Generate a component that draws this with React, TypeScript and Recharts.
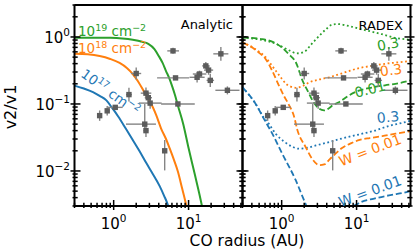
import React from 'react';
import { ComposedChart, Line, Scatter, ErrorBar, XAxis, YAxis } from 'recharts';

// ---------- axes ----------
const X_DOMAIN: [number, number] = [0.3, 52.5];
const Y_DOMAIN: [number, number] = [0.003, 3];
const X_TICKS = [0.3, 0.4, 0.5, 0.6, 0.7, 0.8, 0.9, 1, 2, 3, 4, 5, 6, 7, 8, 9, 10, 20, 30, 40, 50];
const Y_TICKS = [
  0.003, 0.004, 0.005, 0.006, 0.007, 0.008, 0.009, 0.01, 0.02, 0.03, 0.04, 0.05, 0.06, 0.07, 0.08, 0.09,
  0.1, 0.2, 0.3, 0.4, 0.5, 0.6, 0.7, 0.8, 0.9, 1, 2, 3,
];
const X_MAJOR = [1, 10];
const X_MAJOR_EXP = ['0', '1'];
const Y_MAJOR = [0.01, 0.1, 1];
const Y_MAJOR_EXP = ['\u22122', '\u22121', '0'];

// ---------- analytic curves (left panel) ----------
const a19R = [0.3, 0.6, 0.9, 1.3, 1.8, 2.4, 2.9, 3.5, 4.0, 4.5, 5.0, 5.5, 6.0, 6.6, 7.2, 8.5, 10, 12, 15, 18];
const a19V = [0.975, 0.975, 0.97, 0.95, 0.91, 0.85, 0.79, 0.66, 0.52, 0.41, 0.31, 0.245, 0.188, 0.135, 0.095, 0.05, 0.022, 0.0093, 0.0031, 0.001];
const a18R = [0.3, 0.45, 0.65, 0.9, 1.2, 1.5, 1.8, 2.1, 2.5, 2.9, 3.2, 3.7, 4.3, 5.0, 5.6, 6.4, 7.2, 8.2, 9.3, 11];
const a18V = [0.56, 0.55, 0.52, 0.47, 0.41, 0.345, 0.28, 0.22, 0.158, 0.117, 0.098, 0.068, 0.043, 0.03, 0.0217, 0.0145, 0.0098, 0.0055, 0.0031, 0.0012];
const a17R = [0.3, 0.4, 0.53, 0.65, 0.8, 0.95, 1.15, 1.45, 1.8, 2.2, 2.73, 3.3, 4.1, 4.7, 5.3, 6.5];
const a17V = [0.188, 0.17, 0.15, 0.132, 0.113, 0.088, 0.065, 0.043, 0.029, 0.02, 0.0131, 0.0092, 0.006, 0.0043, 0.0031, 0.0012];

// ---------- RADEX curves (right panel) ----------
const gDashR = [0.3, 0.55, 0.8, 1.02, 1.25, 1.55, 1.9, 2.25, 2.58, 3.17, 3.68, 4.2, 4.78, 5.8, 7.8, 10.7, 16, 24, 33, 45, 52];
const gDashV = [0.98, 0.93, 0.82, 0.69, 0.55, 0.416, 0.223, 0.153, 0.113, 0.085, 0.08, 0.085, 0.095, 0.106, 0.133, 0.158, 0.176, 0.19, 0.2, 0.215, 0.224];
const gDotR = [0.3, 0.5, 0.84, 1.1, 1.3, 1.6, 2.0, 2.5, 3.2, 3.9, 4.7, 5.6, 6.6, 7.9, 10.7, 16, 21.7, 33, 43.7, 52];
const gDotV = [0.98, 0.92, 0.79, 0.68, 0.62, 0.57, 0.6, 0.78, 1.05, 1.3, 1.53, 1.56, 1.52, 1.46, 1.33, 1.2, 1.1, 0.97, 0.93, 0.91];
const oDashR = [0.3, 0.41, 0.5, 0.61, 0.75, 0.92, 1.08, 1.25, 1.47, 1.61, 2.08, 2.55, 3.2, 3.7, 4.4, 5.2, 6.4, 8.5, 11, 15, 22, 33, 52];
const oDashV = [0.82, 0.69, 0.58, 0.47, 0.31, 0.188, 0.13, 0.097, 0.064, 0.042, 0.023, 0.0152, 0.0122, 0.0125, 0.015, 0.018, 0.022, 0.026, 0.029, 0.031, 0.033, 0.036, 0.039];
const oDotR = [0.3, 0.41, 0.5, 0.61, 0.72, 0.84, 1.0, 1.14, 1.35, 1.55, 1.9, 2.33, 3.2, 4.3, 6, 7.9, 11, 15.9, 25, 44.7, 52];
const oDotV = [0.82, 0.7, 0.6, 0.5, 0.39, 0.31, 0.24, 0.2, 0.18, 0.174, 0.185, 0.21, 0.232, 0.25, 0.28, 0.31, 0.345, 0.37, 0.4, 0.43, 0.44];
const bDashR = [0.3, 0.45, 0.58, 0.75, 1.02, 1.53, 1.98, 2.5, 3.5, 5, 7, 8.5, 10.7, 17.7, 29.5, 45, 52];
const bDashV = [0.177, 0.1, 0.06, 0.036, 0.018, 0.0074, 0.0037, 0.002, 0.001, 0.0008, 0.0015, 0.0027, 0.0033, 0.0039, 0.0044, 0.0048, 0.005];
const bDotR = [0.3, 0.45, 0.58, 0.68, 0.83, 1.1, 1.39, 1.7, 2.3, 2.86, 3.8, 6, 10.7, 17.5, 27, 40, 52];
const bDotV = [0.177, 0.1, 0.062, 0.05, 0.036, 0.027, 0.023, 0.0215, 0.0225, 0.024, 0.026, 0.03, 0.035, 0.04, 0.047, 0.052, 0.056];

// ---------- observations ----------
const obsR = [6.2, 27, 2.0, 6.7, 17, 18.5, 14, 13, 19.5, 33, 1.6, 2.7, 2.9, 3.07, 7.2, 1.05, 0.82, 0.65, 2.6, 2.7, 4.8];
const obsV = [0.62, 0.56, 0.285, 0.245, 0.37, 0.32, 0.28, 0.25, 0.225, 0.16, 0.138, 0.145, 0.124, 0.103, 0.1, 0.089, 0.079, 0.067, 0.05, 0.04, 0.02];
const obsRLo = [1.0, 5.6, 0.29, 2.9, 1.8, 2.4, 2.6, 2.7, 2.1, 10.2, 0.14, 0.4, 0.3, 0.9, 2.9, 0.22, 0.05, 0.03, 1.14, 0.2, 0.2];
const obsRHi = [1.25, 7.0, 0.33, 3.5, 2.1, 2.8, 3.3, 3.4, 2.4, 14.9, 0.15, 0.48, 0.35, 1.3, 4.9, 0.27, 0.06, 0.03, 1.07, 0.2, 0.2];
const obsVLo = [0.06, 0.12, 0.053, 0.015, 0.047, 0.047, 0.03, 0.04, 0.046, 0.021, 0.029, 0.025, 0.02, 0.018, 0.005, 0.006, 0.012, 0.011, 0.013, 0.008, 0.0098];
const obsVHi = [0.07, 0.15, 0.065, 0.016, 0.054, 0.055, 0.034, 0.05, 0.058, 0.023, 0.036, 0.031, 0.024, 0.021, 0.005, 0.006, 0.014, 0.013, 0.05, 0.01, 0.009];

const BLUE = '#1f77b4';
const ORANGE = '#ff7f0e';
const GREEN = '#2ca02c';
const FONT = 'DejaVu Sans';

const mk = (r: number[], v: number[]) => r.map((x, i) => ({ r: x, v: v[i] }));
const obsData = obsR.map((r, i) => ({
  r,
  v: obsV[i],
  xe: [obsRLo[i], obsRHi[i]],
  ye: [obsVLo[i], obsVHi[i]],
}));

const near = (a: number, b: number) => Math.abs(Math.log10(a) - Math.log10(b)) < 1e-6;

function AxisTick(props: any) {
  const { x, y, payload, side, labels } = props;
  const v = payload.value;
  const xi = X_MAJOR.findIndex((m) => near(m, v));
  const yi = Y_MAJOR.findIndex((m) => near(m, v));
  const horiz = side === 'bottom' || side === 'top';
  const major = horiz ? xi >= 0 : yi >= 0;
  const inL = major ? 6 : 3.2;
  const outL = major ? 4 : 2;
  let line;
  if (side === 'bottom') line = <line x1={x} x2={x} y1={y - inL} y2={y + outL} />;
  else if (side === 'top') line = <line x1={x} x2={x} y1={y + inL} y2={y - outL} />;
  else if (side === 'left') line = <line x1={x + inL} x2={x - outL} y1={y} y2={y} />;
  else line = <line x1={x - inL} x2={x + outL} y1={y} y2={y} />;
  let label = null;
  if (labels && major) {
    if (side === 'bottom') {
      label = (
        <text x={x} y={y + 22.5} textAnchor="middle" fontSize={15} fontFamily={FONT} fill="#000" stroke="none">
          10<tspan dy={-7} fontSize={10.5}>{X_MAJOR_EXP[xi]}</tspan>
        </text>
      );
    } else if (side === 'left') {
      label = (
        <text x={x - 4.5} y={y + 6.5} textAnchor="end" fontSize={15} fontFamily={FONT} fill="#000" stroke="none">
          10<tspan dy={-7} fontSize={10.5}>{Y_MAJOR_EXP[yi]}</tspan>
        </text>
      );
    }
  }
  return (
    <g stroke="#000" strokeWidth={1.5}>
      {line}
      {label}
    </g>
  );
}

const axisLine = { stroke: '#000', strokeWidth: 2 };

function Frame(showYLabels: boolean) {
  return [
    <XAxis key="xb" xAxisId="b" dataKey="r" type="number" scale="log" domain={X_DOMAIN} allowDataOverflow ticks={X_TICKS} interval={0} height={1} tickSize={0} tickMargin={0} tickLine={false} axisLine={axisLine} tick={(p: any) => <AxisTick {...p} side="bottom" labels />} />,
    <XAxis key="xt" xAxisId="t" orientation="top" type="number" scale="log" domain={X_DOMAIN} allowDataOverflow ticks={X_TICKS} interval={0} height={1} tickSize={0} tickMargin={0} tickLine={false} axisLine={axisLine} tick={(p: any) => <AxisTick {...p} side="top" />} />,
    <YAxis key="yl" yAxisId="l" type="number" scale="log" domain={Y_DOMAIN} allowDataOverflow ticks={Y_TICKS} interval={0} width={1} tickSize={0} tickMargin={0} tickLine={false} axisLine={axisLine} tick={(p: any) => <AxisTick {...p} side="left" labels={showYLabels} />} />,
    <YAxis key="yr" yAxisId="r" orientation="right" type="number" scale="log" domain={Y_DOMAIN} allowDataOverflow ticks={Y_TICKS} interval={0} width={1} tickSize={0} tickMargin={0} tickLine={false} axisLine={axisLine} tick={(p: any) => <AxisTick {...p} side="right" />} />,
  ];
}

const Square = (p: any) => <rect x={p.cx - 2.7} y={p.cy - 2.7} width={5.4} height={5.4} fill="#5c5c5c" />;

function Observations() {
  return (
    <Scatter xAxisId="b" yAxisId="l" data={obsData} dataKey="v" shape={Square} isAnimationActive={false}>
      <ErrorBar dataKey="xe" direction="x" width={0} stroke="#858585" strokeWidth={1.4} />
      <ErrorBar dataKey="ye" direction="y" width={0} stroke="#858585" strokeWidth={1.4} />
    </Scatter>
  );
}

function curve(key: string, data: any[], color: string, dash?: string, width = 2) {
  return (
    <Line
      key={key}
      xAxisId="b"
      yAxisId="l"
      data={data}
      dataKey="v"
      type="monotone"
      stroke={color}
      strokeWidth={width}
      strokeDasharray={dash}
      dot={false}
      activeDot={false}
      isAnimationActive={false}
    />
  );
}

const DASH = '6 2.8';
const DOT = '1.8 2.6';

export default function App() {
  return (
    <div style={{ position: 'absolute', left: 0, top: 0, width: 415, height: 249, background: '#fff' }}>
      <div style={{ position: 'absolute', left: 0, top: 0 }}>
        <ComposedChart width={250} height={249} margin={{ top: 4, right: 6.5, bottom: 42, left: 73.5 }}>
          {Frame(true)}
          {curve('a17', mk(a17R, a17V), BLUE)}
          {curve('a18', mk(a18R, a18V), ORANGE)}
          {curve('a19', mk(a19R, a19V), GREEN)}
          {Observations()}
        </ComposedChart>
      </div>
      <div style={{ position: 'absolute', left: 235, top: 0 }}>
        <ComposedChart width={180} height={249} margin={{ top: 4, right: 3.5, bottom: 42, left: 6.5 }}>
          {Frame(false)}
          {curve('bd', mk(bDashR, bDashV), BLUE, DASH, 1.8)}
          {curve('bo', mk(bDotR, bDotV), BLUE, DOT, 1.8)}
          {curve('od', mk(oDashR, oDashV), ORANGE, DASH, 1.8)}
          {curve('oo', mk(oDotR, oDotV), ORANGE, DOT, 1.8)}
          {curve('gd', mk(gDashR, gDashV), GREEN, DASH, 1.8)}
          {curve('go', mk(gDotR, gDotV), GREEN, DOT, 1.8)}
          {Observations()}
        </ComposedChart>
      </div>
      <svg
        width={415}
        height={249}
        style={{ position: 'absolute', left: 0, top: 0, pointerEvents: 'none' }}
        fontFamily={FONT}
      >
        <text x={247} y={246} textAnchor="middle" fontSize={15.5} fill="#000">CO radius (AU)</text>
        <text transform="rotate(-90 15.5 107)" x={15.5} y={107} textAnchor="middle" fontSize={16} fill="#000">v2/v1</text>

        <text x={233} y={29} textAnchor="end" fontSize={13} fill="#000">Analytic</text>
        <text x={403} y={29.5} textAnchor="end" fontSize={13} fill="#000">RADEX</text>

        <text x={78} y={36} fontSize={13.5} fill={GREEN} style={{ whiteSpace: 'pre' }}>
          10<tspan dy={-5.5} fontSize={9.5}>19</tspan>
          <tspan dy={5.5} fontSize={13.5}> cm</tspan>
          <tspan dy={-5.5} fontSize={9.5}>{'\u22122'}</tspan>
        </text>
        <text x={78} y={53} fontSize={13.5} fill={ORANGE} style={{ whiteSpace: 'pre' }}>
          10<tspan dy={-5.5} fontSize={9.5}>18</tspan>
          <tspan dy={5.5} fontSize={13.5}> cm</tspan>
          <tspan dy={-5.5} fontSize={9.5}>{'\u22122'}</tspan>
        </text>
        <text x={80} y={76} transform="rotate(36 80 76)" fontSize={13.5} fill={BLUE} style={{ whiteSpace: 'pre' }}>
          10<tspan dy={-5.5} fontSize={9.5}>17</tspan>
          <tspan dy={5.5} fontSize={13.5}> cm</tspan>
          <tspan dy={-5.5} fontSize={9.5}>{'\u22122'}</tspan>
        </text>

        <text x={388} y={44} dy="0.36em" textAnchor="middle" transform="rotate(-10 388 44)" fontSize={14} fill={GREEN}>0.3</text>
        <text x={391} y={70} dy="0.36em" textAnchor="middle" transform="rotate(-7 391 70)" fontSize={14} fill={ORANGE}>0.3</text>
        <text x={370} y={89} dy="0.36em" textAnchor="middle" transform="rotate(-14 370 89)" fontSize={14} fill={GREEN}>0.01</text>
        <text x={388} y={117} dy="0.36em" textAnchor="middle" transform="rotate(-5 388 117)" fontSize={14} fill={BLUE}>0.3</text>
        <text x={370} y={150} dy="0.36em" textAnchor="middle" transform="rotate(-21 370 150)" fontSize={14} fill={ORANGE}>W = 0.01</text>
        <text x={370} y={191} dy="0.36em" textAnchor="middle" transform="rotate(-20 370 191)" fontSize={14} fill={BLUE}>W = 0.01</text>
      </svg>
    </div>
  );
}
